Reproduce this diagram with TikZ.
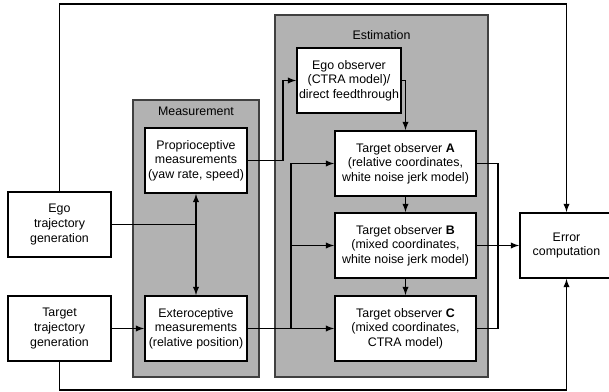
\documentclass[tikz,border=0pt]{standalone}
\usepackage{fontspec}
\setmainfont{Liberation Sans}
\usetikzlibrary{positioning,calc,backgrounds}

\tikzset{
  block/.style={draw, fill=white, line width=2pt, align=center, inner sep=1pt,
    minimum width=103pt, minimum height=65pt, font=\fontsize{12.4}{14.7}\selectfont},
  panel/.style={draw=black!75, fill=black!30, line width=1.5pt},
  title/.style={font=\fontsize{12.4}{14.7}\selectfont},
  wire/.style={line width=1.8pt}
}

\begin{document}
\begin{tikzpicture}[>=latex, x=1pt, y=1pt]
\useasboundingbox (0,0) rectangle (609,391);

% trajectory generation
\node[block] (egotraj) at (59.5,166.5) {Ego\\trajectory\\generation};
\node[block] (tgttraj) [below=37pt of egotraj] {Target\\trajectory\\generation};

% measurement
\node[block, minimum width=102pt] (extero) [right=32pt of tgttraj] {Exteroceptive\\measurements\\(relative position)};
\node[block, minimum width=102pt] (proprio) [above=101pt of extero] {Proprioceptive\\measurements\\(yaw rate, speed)};

% estimation
\node[block, minimum width=141pt] (obsC) [right=86pt of extero] {Target observer \textbf{C}\\(mixed coordinates,\\CTRA model)};
\node[block, minimum width=141pt] (obsB) [above=16pt of obsC] {Target observer \textbf{B}\\(mixed coordinates,\\white noise jerk model)};
\node[block, minimum width=141pt] (obsA) [above=15pt of obsB] {Target observer \textbf{A}\\(relative coordinates,\\white noise jerk model)};
\node[block, minimum width=104pt] (egoobs) [above=16pt of obsA, xshift=-56.5pt] {Ego observer\\(CTRA model)/\\direct feedthrough};

\node[block, minimum width=93pt] (error) [right=42pt of obsB] {Error\\computation};

% grey panels
\coordinate (measNW) at ($(proprio.north west)+(-11,27)$);
\coordinate (measSE) at ($(extero.south east)+(11,-15)$);
\coordinate (estNW) at ($(egoobs.north west)+(-21,32)$);
\coordinate (estSE) at ($(obsC.south east)+(11,-15)$);
\begin{scope}[on background layer]
  \draw[panel] (measNW) rectangle (measSE);
  \draw[panel] (estNW) rectangle (estSE);
\end{scope}
\node[title] (meastitle) at ($(measNW)!0.5!(measNW -| measSE)+(0,-11)$) {Measurement};
\node[title] (esttitle) at ($(estNW)!0.5!(estNW -| estSE)+(0,-20)$) {Estimation};

% connections
\draw[wire,->] (egotraj.north) -- ++(0,187) -| (error.north);
\draw[wire,->] (tgttraj.south) -- ++(0,-28) -| (error.south);

\draw[wire] (egotraj.east) -- (egotraj.east -| proprio.south);
\draw[wire,<->] (proprio) -- (extero);
\draw[wire,->] (tgttraj) -- (extero);

\coordinate (bus) at ($(extero.east)+(43,0)$);
\draw[wire,->] (extero) -- (obsC);
\draw[wire,->] (bus) |- (obsA);
\draw[wire,->] (bus |- obsB) -- (obsB);

\draw[wire,->] (proprio.east) -- ++(35,0) |- (egoobs.west);
\draw[wire,->] (egoobs.east) -| (obsA.north);
\draw[wire,->] (obsA) -- (obsB);
\draw[wire,->] (obsB) -- (obsC);

\draw[wire] (obsA.east) -- ++(21,0) |- (obsC.east);
\draw[wire,->] (obsB) -- (error);

\end{tikzpicture}
\end{document}
